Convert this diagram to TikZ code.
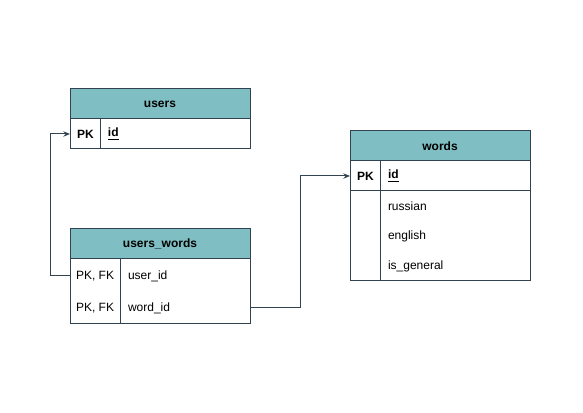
\documentclass[tikz,border=0pt]{standalone}
\usepackage{fontspec}
\setmainfont{Liberation Sans}
\usetikzlibrary{arrows.meta}
\definecolor{linec}{HTML}{314250}
\definecolor{headc}{HTML}{7FBFC3}
\begin{document}
\begin{tikzpicture}[x=0.75pt,y=-0.75pt,font=\fontsize{9}{11}\selectfont]
    \useasboundingbox (0,0) rectangle (583,413);
    \begin{scope}[every node/.style={draw=linec, line width=0.75pt, anchor=north west, inner sep=0pt, outer sep=0pt},
        hdr/.style={fill=headc, minimum width=135pt, minimum height=22.5pt, font=\fontsize{9}{11}\selectfont\bfseries},
        cell/.style={minimum height=#1},
        txt/.style={draw=none, anchor=west}]

        % users
        \node[hdr] (users) at (70,89) {users};
        \node[cell=22.5pt, minimum width=22.5pt] (users-k) at (70,119) {};
        \node[cell=22.5pt, minimum width=112.5pt] (users-f) at (100,119) {};
        \node[txt] (users-pk) at (77,134) {\bfseries PK};
        \node[txt] (users-id) at (108,134) {\bfseries\underline{id}};

        % users_words
        \node[hdr] (uw) at (70,229) {users\_words};
        \node[cell=48.75pt, minimum width=37.5pt] (uw-k) at (70,259) {};
        \node[cell=48.75pt, minimum width=97.5pt] (uw-f) at (120,259) {};
        \node[txt] (uw-k1) at (76,276) {PK, FK};
        \node[txt] (uw-f1) at (128,276) {user\_id};
        \node[txt] (uw-k2) at (76,308) {PK, FK};
        \node[txt] (uw-f2) at (128,308) {word\_id};

        % words
        \node[hdr] (words) at (350,131) {words};
        \node[cell=22.5pt, minimum width=22.5pt] (words-k) at (350,161) {};
        \node[cell=22.5pt, minimum width=112.5pt] (words-f) at (380,161) {};
        \node[cell=67.5pt, minimum width=22.5pt] (words-k2) at (350,191) {};
        \node[cell=67.5pt, minimum width=112.5pt] (words-f2) at (380,191) {};
        \node[txt] (words-pk) at (357,176) {\bfseries PK};
        \node[txt] (words-id) at (388,176) {\bfseries\underline{id}};
        \node[txt] (words-ru) at (388,206) {russian};
        \node[txt] (words-en) at (388,236) {english};
        \node[txt] (words-gen) at (388,266) {is\_general};
    \end{scope}

    \coordinate (c1) at (50,0);
    \coordinate (c2) at (300,0);
    \draw[linec, line width=0.75pt, -{Stealth[length=5pt,width=4pt]}]
        (uw-k.west |- uw-k1) -- (c1 |- uw-k1) -- (c1 |- users-pk) -- (users-k.west |- users-pk);
    \draw[linec, line width=0.75pt, -{Stealth[length=5pt,width=4pt]}]
        (uw-f.east |- uw-f2) -- (c2 |- uw-f2) -- (c2 |- words-pk) -- (words-k.west |- words-pk);
\end{tikzpicture}
\end{document}
